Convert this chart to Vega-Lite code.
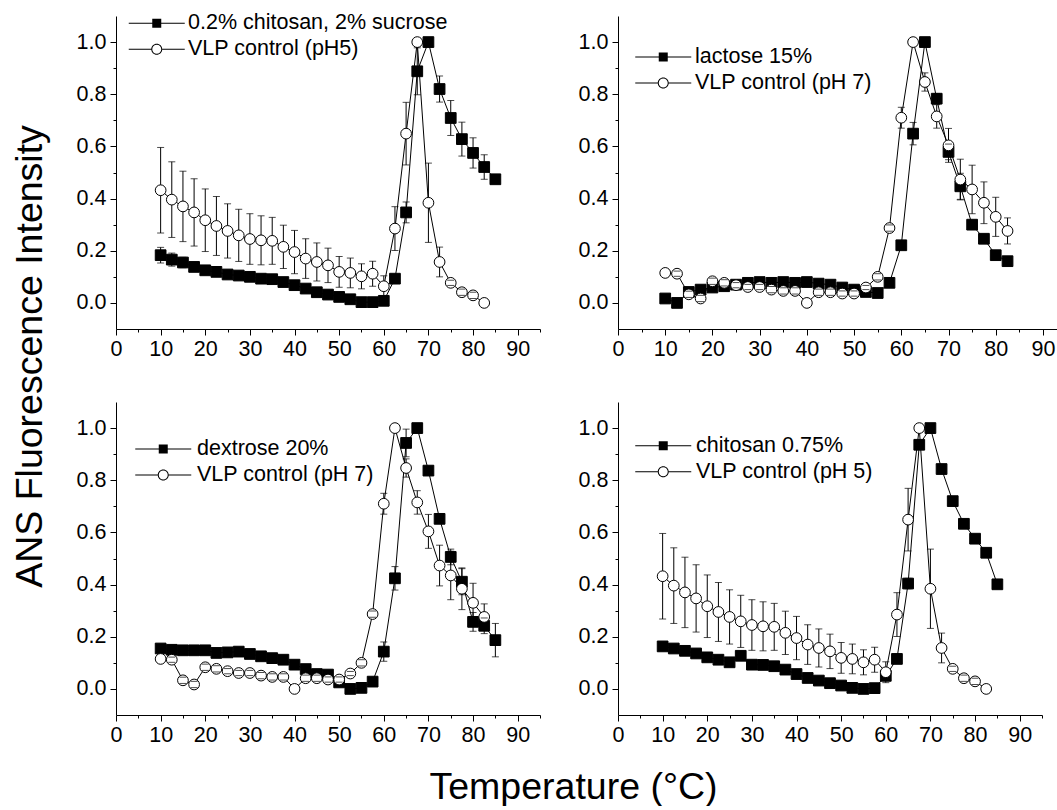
{
"$schema":"https://vega.github.io/schema/vega-lite/v6.json",
"background":"white",
"padding":{"left":11,"top":12,"right":0,"bottom":0},
"datasets":{"d":[
{"panel":1,"series":"0.2% chitosan, 2% sucrose","t":10,"y":0.183,"err":0.03},
{"panel":1,"series":"0.2% chitosan, 2% sucrose","t":12.5,"y":0.166,"err":0.025},
{"panel":1,"series":"0.2% chitosan, 2% sucrose","t":15,"y":0.155,"err":0.02},
{"panel":1,"series":"0.2% chitosan, 2% sucrose","t":17.5,"y":0.138,"err":0},
{"panel":1,"series":"0.2% chitosan, 2% sucrose","t":20,"y":0.125,"err":0},
{"panel":1,"series":"0.2% chitosan, 2% sucrose","t":22.5,"y":0.119,"err":0},
{"panel":1,"series":"0.2% chitosan, 2% sucrose","t":25,"y":0.109,"err":0},
{"panel":1,"series":"0.2% chitosan, 2% sucrose","t":27.5,"y":0.105,"err":0},
{"panel":1,"series":"0.2% chitosan, 2% sucrose","t":30,"y":0.1,"err":0},
{"panel":1,"series":"0.2% chitosan, 2% sucrose","t":32.5,"y":0.093,"err":0},
{"panel":1,"series":"0.2% chitosan, 2% sucrose","t":35,"y":0.091,"err":0},
{"panel":1,"series":"0.2% chitosan, 2% sucrose","t":37.5,"y":0.08,"err":0},
{"panel":1,"series":"0.2% chitosan, 2% sucrose","t":40,"y":0.068,"err":0},
{"panel":1,"series":"0.2% chitosan, 2% sucrose","t":42.5,"y":0.055,"err":0},
{"panel":1,"series":"0.2% chitosan, 2% sucrose","t":45,"y":0.041,"err":0},
{"panel":1,"series":"0.2% chitosan, 2% sucrose","t":47.5,"y":0.032,"err":0},
{"panel":1,"series":"0.2% chitosan, 2% sucrose","t":50,"y":0.023,"err":0},
{"panel":1,"series":"0.2% chitosan, 2% sucrose","t":52.5,"y":0.014,"err":0},
{"panel":1,"series":"0.2% chitosan, 2% sucrose","t":55,"y":0.003,"err":0},
{"panel":1,"series":"0.2% chitosan, 2% sucrose","t":57.5,"y":0.003,"err":0},
{"panel":1,"series":"0.2% chitosan, 2% sucrose","t":60,"y":0.008,"err":0},
{"panel":1,"series":"0.2% chitosan, 2% sucrose","t":62.5,"y":0.093,"err":0},
{"panel":1,"series":"0.2% chitosan, 2% sucrose","t":65,"y":0.347,"err":0.04},
{"panel":1,"series":"0.2% chitosan, 2% sucrose","t":67.5,"y":0.888,"err":0.09},
{"panel":1,"series":"0.2% chitosan, 2% sucrose","t":70,"y":1.0,"err":0},
{"panel":1,"series":"0.2% chitosan, 2% sucrose","t":72.5,"y":0.82,"err":0.05},
{"panel":1,"series":"0.2% chitosan, 2% sucrose","t":75,"y":0.709,"err":0.067},
{"panel":1,"series":"0.2% chitosan, 2% sucrose","t":77.5,"y":0.628,"err":0.065},
{"panel":1,"series":"0.2% chitosan, 2% sucrose","t":80,"y":0.575,"err":0.058},
{"panel":1,"series":"0.2% chitosan, 2% sucrose","t":82.5,"y":0.521,"err":0.047},
{"panel":1,"series":"0.2% chitosan, 2% sucrose","t":85,"y":0.474,"err":0},
{"panel":1,"series":"VLP control (pH5)","t":10,"y":0.432,"err":0.164},
{"panel":1,"series":"VLP control (pH5)","t":12.5,"y":0.396,"err":0.145},
{"panel":1,"series":"VLP control (pH5)","t":15,"y":0.37,"err":0.135},
{"panel":1,"series":"VLP control (pH5)","t":17.5,"y":0.347,"err":0.129},
{"panel":1,"series":"VLP control (pH5)","t":20,"y":0.317,"err":0.12},
{"panel":1,"series":"VLP control (pH5)","t":22.5,"y":0.295,"err":0.113},
{"panel":1,"series":"VLP control (pH5)","t":25,"y":0.276,"err":0.104},
{"panel":1,"series":"VLP control (pH5)","t":27.5,"y":0.259,"err":0.1},
{"panel":1,"series":"VLP control (pH5)","t":30,"y":0.245,"err":0.097},
{"panel":1,"series":"VLP control (pH5)","t":32.5,"y":0.24,"err":0.094},
{"panel":1,"series":"VLP control (pH5)","t":35,"y":0.238,"err":0.09},
{"panel":1,"series":"VLP control (pH5)","t":37.5,"y":0.215,"err":0.083},
{"panel":1,"series":"VLP control (pH5)","t":40,"y":0.195,"err":0.083},
{"panel":1,"series":"VLP control (pH5)","t":42.5,"y":0.17,"err":0.076},
{"panel":1,"series":"VLP control (pH5)","t":45,"y":0.157,"err":0.073},
{"panel":1,"series":"VLP control (pH5)","t":47.5,"y":0.144,"err":0.066},
{"panel":1,"series":"VLP control (pH5)","t":50,"y":0.119,"err":0.059},
{"panel":1,"series":"VLP control (pH5)","t":52.5,"y":0.115,"err":0.057},
{"panel":1,"series":"VLP control (pH5)","t":55,"y":0.102,"err":0.048},
{"panel":1,"series":"VLP control (pH5)","t":57.5,"y":0.112,"err":0.048},
{"panel":1,"series":"VLP control (pH5)","t":60,"y":0.064,"err":0.04},
{"panel":1,"series":"VLP control (pH5)","t":62.5,"y":0.285,"err":0.084},
{"panel":1,"series":"VLP control (pH5)","t":65,"y":0.649,"err":0.12},
{"panel":1,"series":"VLP control (pH5)","t":67.5,"y":1.0,"err":0},
{"panel":1,"series":"VLP control (pH5)","t":70,"y":0.384,"err":0.152},
{"panel":1,"series":"VLP control (pH5)","t":72.5,"y":0.157,"err":0.057},
{"panel":1,"series":"VLP control (pH5)","t":75,"y":0.077,"err":0.01},
{"panel":1,"series":"VLP control (pH5)","t":77.5,"y":0.041,"err":0.012},
{"panel":1,"series":"VLP control (pH5)","t":80,"y":0.029,"err":0.012},
{"panel":1,"series":"VLP control (pH5)","t":82.5,"y":0,"err":0},
{"panel":2,"series":"lactose 15%","t":10,"y":0.017,"err":0},
{"panel":2,"series":"lactose 15%","t":12.5,"y":0,"err":0},
{"panel":2,"series":"lactose 15%","t":15,"y":0.042,"err":0},
{"panel":2,"series":"lactose 15%","t":17.5,"y":0.051,"err":0},
{"panel":2,"series":"lactose 15%","t":20,"y":0.059,"err":0},
{"panel":2,"series":"lactose 15%","t":22.5,"y":0.064,"err":0},
{"panel":2,"series":"lactose 15%","t":25,"y":0.07,"err":0},
{"panel":2,"series":"lactose 15%","t":27.5,"y":0.077,"err":0},
{"panel":2,"series":"lactose 15%","t":30,"y":0.08,"err":0},
{"panel":2,"series":"lactose 15%","t":32.5,"y":0.077,"err":0},
{"panel":2,"series":"lactose 15%","t":35,"y":0.08,"err":0},
{"panel":2,"series":"lactose 15%","t":37.5,"y":0.077,"err":0},
{"panel":2,"series":"lactose 15%","t":40,"y":0.08,"err":0},
{"panel":2,"series":"lactose 15%","t":42.5,"y":0.074,"err":0},
{"panel":2,"series":"lactose 15%","t":45,"y":0.07,"err":0},
{"panel":2,"series":"lactose 15%","t":47.5,"y":0.059,"err":0},
{"panel":2,"series":"lactose 15%","t":50,"y":0.051,"err":0},
{"panel":2,"series":"lactose 15%","t":52.5,"y":0.042,"err":0},
{"panel":2,"series":"lactose 15%","t":55,"y":0.038,"err":0},
{"panel":2,"series":"lactose 15%","t":57.5,"y":0.077,"err":0},
{"panel":2,"series":"lactose 15%","t":60,"y":0.221,"err":0},
{"panel":2,"series":"lactose 15%","t":62.5,"y":0.649,"err":0.043},
{"panel":2,"series":"lactose 15%","t":65,"y":1.0,"err":0},
{"panel":2,"series":"lactose 15%","t":67.5,"y":0.783,"err":0.02},
{"panel":2,"series":"lactose 15%","t":70,"y":0.579,"err":0.03},
{"panel":2,"series":"lactose 15%","t":72.5,"y":0.447,"err":0.05},
{"panel":2,"series":"lactose 15%","t":75,"y":0.3,"err":0},
{"panel":2,"series":"lactose 15%","t":77.5,"y":0.246,"err":0},
{"panel":2,"series":"lactose 15%","t":80,"y":0.183,"err":0},
{"panel":2,"series":"lactose 15%","t":82.5,"y":0.16,"err":0},
{"panel":2,"series":"VLP control (pH 7)","t":10,"y":0.115,"err":0},
{"panel":2,"series":"VLP control (pH 7)","t":12.5,"y":0.112,"err":0.01},
{"panel":2,"series":"VLP control (pH 7)","t":15,"y":0.033,"err":0.012},
{"panel":2,"series":"VLP control (pH 7)","t":17.5,"y":0.017,"err":0.012},
{"panel":2,"series":"VLP control (pH 7)","t":20,"y":0.083,"err":0.012},
{"panel":2,"series":"VLP control (pH 7)","t":22.5,"y":0.077,"err":0.012},
{"panel":2,"series":"VLP control (pH 7)","t":25,"y":0.068,"err":0.01},
{"panel":2,"series":"VLP control (pH 7)","t":27.5,"y":0.061,"err":0.01},
{"panel":2,"series":"VLP control (pH 7)","t":30,"y":0.061,"err":0.01},
{"panel":2,"series":"VLP control (pH 7)","t":32.5,"y":0.051,"err":0.012},
{"panel":2,"series":"VLP control (pH 7)","t":35,"y":0.046,"err":0.012},
{"panel":2,"series":"VLP control (pH 7)","t":37.5,"y":0.046,"err":0.012},
{"panel":2,"series":"VLP control (pH 7)","t":40,"y":0,"err":0},
{"panel":2,"series":"VLP control (pH 7)","t":42.5,"y":0.041,"err":0.012},
{"panel":2,"series":"VLP control (pH 7)","t":45,"y":0.041,"err":0.012},
{"panel":2,"series":"VLP control (pH 7)","t":47.5,"y":0.036,"err":0.01},
{"panel":2,"series":"VLP control (pH 7)","t":50,"y":0.036,"err":0.01},
{"panel":2,"series":"VLP control (pH 7)","t":52.5,"y":0.059,"err":0.008},
{"panel":2,"series":"VLP control (pH 7)","t":55,"y":0.1,"err":0.012},
{"panel":2,"series":"VLP control (pH 7)","t":57.5,"y":0.287,"err":0.012},
{"panel":2,"series":"VLP control (pH 7)","t":60,"y":0.71,"err":0.04},
{"panel":2,"series":"VLP control (pH 7)","t":62.5,"y":1.0,"err":0},
{"panel":2,"series":"VLP control (pH 7)","t":65,"y":0.847,"err":0.035},
{"panel":2,"series":"VLP control (pH 7)","t":67.5,"y":0.715,"err":0.045},
{"panel":2,"series":"VLP control (pH 7)","t":70,"y":0.604,"err":0.065},
{"panel":2,"series":"VLP control (pH 7)","t":72.5,"y":0.473,"err":0.078},
{"panel":2,"series":"VLP control (pH 7)","t":75,"y":0.435,"err":0.093},
{"panel":2,"series":"VLP control (pH 7)","t":77.5,"y":0.384,"err":0.08},
{"panel":2,"series":"VLP control (pH 7)","t":80,"y":0.33,"err":0.075},
{"panel":2,"series":"VLP control (pH 7)","t":82.5,"y":0.276,"err":0.05},
{"panel":3,"series":"dextrose 20%","t":10,"y":0.155,"err":0},
{"panel":3,"series":"dextrose 20%","t":12.5,"y":0.15,"err":0},
{"panel":3,"series":"dextrose 20%","t":15,"y":0.148,"err":0},
{"panel":3,"series":"dextrose 20%","t":17.5,"y":0.148,"err":0},
{"panel":3,"series":"dextrose 20%","t":20,"y":0.148,"err":0},
{"panel":3,"series":"dextrose 20%","t":22.5,"y":0.138,"err":0},
{"panel":3,"series":"dextrose 20%","t":25,"y":0.14,"err":0},
{"panel":3,"series":"dextrose 20%","t":27.5,"y":0.143,"err":0},
{"panel":3,"series":"dextrose 20%","t":30,"y":0.134,"err":0},
{"panel":3,"series":"dextrose 20%","t":32.5,"y":0.125,"err":0},
{"panel":3,"series":"dextrose 20%","t":35,"y":0.118,"err":0},
{"panel":3,"series":"dextrose 20%","t":37.5,"y":0.112,"err":0},
{"panel":3,"series":"dextrose 20%","t":40,"y":0.093,"err":0},
{"panel":3,"series":"dextrose 20%","t":42.5,"y":0.076,"err":0},
{"panel":3,"series":"dextrose 20%","t":45,"y":0.057,"err":0},
{"panel":3,"series":"dextrose 20%","t":47.5,"y":0.055,"err":0},
{"panel":3,"series":"dextrose 20%","t":50,"y":0.025,"err":0},
{"panel":3,"series":"dextrose 20%","t":52.5,"y":0,"err":0},
{"panel":3,"series":"dextrose 20%","t":55,"y":0.004,"err":0},
{"panel":3,"series":"dextrose 20%","t":57.5,"y":0.028,"err":0},
{"panel":3,"series":"dextrose 20%","t":60,"y":0.143,"err":0.037},
{"panel":3,"series":"dextrose 20%","t":62.5,"y":0.424,"err":0.045},
{"panel":3,"series":"dextrose 20%","t":65,"y":0.943,"err":0.053},
{"panel":3,"series":"dextrose 20%","t":67.5,"y":1.0,"err":0},
{"panel":3,"series":"dextrose 20%","t":70,"y":0.837,"err":0},
{"panel":3,"series":"dextrose 20%","t":72.5,"y":0.652,"err":0},
{"panel":3,"series":"dextrose 20%","t":75,"y":0.506,"err":0.03},
{"panel":3,"series":"dextrose 20%","t":77.5,"y":0.411,"err":0.05},
{"panel":3,"series":"dextrose 20%","t":80,"y":0.257,"err":0.036},
{"panel":3,"series":"dextrose 20%","t":82.5,"y":0.242,"err":0.03},
{"panel":3,"series":"dextrose 20%","t":85,"y":0.187,"err":0.064},
{"panel":3,"series":"VLP control (pH 7)","t":10,"y":0.115,"err":0},
{"panel":3,"series":"VLP control (pH 7)","t":12.5,"y":0.112,"err":0.01},
{"panel":3,"series":"VLP control (pH 7)","t":15,"y":0.033,"err":0.012},
{"panel":3,"series":"VLP control (pH 7)","t":17.5,"y":0.017,"err":0.012},
{"panel":3,"series":"VLP control (pH 7)","t":20,"y":0.083,"err":0.012},
{"panel":3,"series":"VLP control (pH 7)","t":22.5,"y":0.077,"err":0.012},
{"panel":3,"series":"VLP control (pH 7)","t":25,"y":0.068,"err":0.01},
{"panel":3,"series":"VLP control (pH 7)","t":27.5,"y":0.061,"err":0.01},
{"panel":3,"series":"VLP control (pH 7)","t":30,"y":0.061,"err":0.01},
{"panel":3,"series":"VLP control (pH 7)","t":32.5,"y":0.051,"err":0.012},
{"panel":3,"series":"VLP control (pH 7)","t":35,"y":0.046,"err":0.012},
{"panel":3,"series":"VLP control (pH 7)","t":37.5,"y":0.046,"err":0.012},
{"panel":3,"series":"VLP control (pH 7)","t":40,"y":0,"err":0},
{"panel":3,"series":"VLP control (pH 7)","t":42.5,"y":0.041,"err":0.012},
{"panel":3,"series":"VLP control (pH 7)","t":45,"y":0.041,"err":0.012},
{"panel":3,"series":"VLP control (pH 7)","t":47.5,"y":0.036,"err":0.01},
{"panel":3,"series":"VLP control (pH 7)","t":50,"y":0.036,"err":0.01},
{"panel":3,"series":"VLP control (pH 7)","t":52.5,"y":0.059,"err":0.008},
{"panel":3,"series":"VLP control (pH 7)","t":55,"y":0.1,"err":0.012},
{"panel":3,"series":"VLP control (pH 7)","t":57.5,"y":0.287,"err":0.012},
{"panel":3,"series":"VLP control (pH 7)","t":60,"y":0.71,"err":0.04},
{"panel":3,"series":"VLP control (pH 7)","t":62.5,"y":1.0,"err":0},
{"panel":3,"series":"VLP control (pH 7)","t":65,"y":0.847,"err":0.035},
{"panel":3,"series":"VLP control (pH 7)","t":67.5,"y":0.715,"err":0.045},
{"panel":3,"series":"VLP control (pH 7)","t":70,"y":0.604,"err":0.065},
{"panel":3,"series":"VLP control (pH 7)","t":72.5,"y":0.473,"err":0.078},
{"panel":3,"series":"VLP control (pH 7)","t":75,"y":0.435,"err":0.093},
{"panel":3,"series":"VLP control (pH 7)","t":77.5,"y":0.384,"err":0.08},
{"panel":3,"series":"VLP control (pH 7)","t":80,"y":0.33,"err":0.075},
{"panel":3,"series":"VLP control (pH 7)","t":82.5,"y":0.276,"err":0.05},
{"panel":4,"series":"chitosan 0.75%","t":10,"y":0.163,"err":0},
{"panel":4,"series":"chitosan 0.75%","t":12.5,"y":0.155,"err":0},
{"panel":4,"series":"chitosan 0.75%","t":15,"y":0.146,"err":0},
{"panel":4,"series":"chitosan 0.75%","t":17.5,"y":0.136,"err":0},
{"panel":4,"series":"chitosan 0.75%","t":20,"y":0.121,"err":0},
{"panel":4,"series":"chitosan 0.75%","t":22.5,"y":0.112,"err":0},
{"panel":4,"series":"chitosan 0.75%","t":25,"y":0.102,"err":0},
{"panel":4,"series":"chitosan 0.75%","t":27.5,"y":0.127,"err":0},
{"panel":4,"series":"chitosan 0.75%","t":30,"y":0.093,"err":0},
{"panel":4,"series":"chitosan 0.75%","t":32.5,"y":0.092,"err":0},
{"panel":4,"series":"chitosan 0.75%","t":35,"y":0.087,"err":0},
{"panel":4,"series":"chitosan 0.75%","t":37.5,"y":0.074,"err":0},
{"panel":4,"series":"chitosan 0.75%","t":40,"y":0.057,"err":0},
{"panel":4,"series":"chitosan 0.75%","t":42.5,"y":0.042,"err":0},
{"panel":4,"series":"chitosan 0.75%","t":45,"y":0.032,"err":0},
{"panel":4,"series":"chitosan 0.75%","t":47.5,"y":0.022,"err":0},
{"panel":4,"series":"chitosan 0.75%","t":50,"y":0.013,"err":0},
{"panel":4,"series":"chitosan 0.75%","t":52.5,"y":0.004,"err":0},
{"panel":4,"series":"chitosan 0.75%","t":55,"y":0,"err":0},
{"panel":4,"series":"chitosan 0.75%","t":57.5,"y":0.003,"err":0},
{"panel":4,"series":"chitosan 0.75%","t":60,"y":0.05,"err":0},
{"panel":4,"series":"chitosan 0.75%","t":62.5,"y":0.115,"err":0},
{"panel":4,"series":"chitosan 0.75%","t":65,"y":0.404,"err":0.02},
{"panel":4,"series":"chitosan 0.75%","t":67.5,"y":0.936,"err":0},
{"panel":4,"series":"chitosan 0.75%","t":70,"y":1.0,"err":0},
{"panel":4,"series":"chitosan 0.75%","t":72.5,"y":0.843,"err":0},
{"panel":4,"series":"chitosan 0.75%","t":75,"y":0.72,"err":0},
{"panel":4,"series":"chitosan 0.75%","t":77.5,"y":0.633,"err":0},
{"panel":4,"series":"chitosan 0.75%","t":80,"y":0.576,"err":0},
{"panel":4,"series":"chitosan 0.75%","t":82.5,"y":0.522,"err":0},
{"panel":4,"series":"chitosan 0.75%","t":85,"y":0.401,"err":0.01},
{"panel":4,"series":"VLP control (pH 5)","t":10,"y":0.432,"err":0.164},
{"panel":4,"series":"VLP control (pH 5)","t":12.5,"y":0.396,"err":0.145},
{"panel":4,"series":"VLP control (pH 5)","t":15,"y":0.37,"err":0.135},
{"panel":4,"series":"VLP control (pH 5)","t":17.5,"y":0.347,"err":0.129},
{"panel":4,"series":"VLP control (pH 5)","t":20,"y":0.317,"err":0.12},
{"panel":4,"series":"VLP control (pH 5)","t":22.5,"y":0.295,"err":0.113},
{"panel":4,"series":"VLP control (pH 5)","t":25,"y":0.276,"err":0.104},
{"panel":4,"series":"VLP control (pH 5)","t":27.5,"y":0.259,"err":0.1},
{"panel":4,"series":"VLP control (pH 5)","t":30,"y":0.245,"err":0.097},
{"panel":4,"series":"VLP control (pH 5)","t":32.5,"y":0.24,"err":0.094},
{"panel":4,"series":"VLP control (pH 5)","t":35,"y":0.238,"err":0.09},
{"panel":4,"series":"VLP control (pH 5)","t":37.5,"y":0.215,"err":0.083},
{"panel":4,"series":"VLP control (pH 5)","t":40,"y":0.195,"err":0.083},
{"panel":4,"series":"VLP control (pH 5)","t":42.5,"y":0.17,"err":0.076},
{"panel":4,"series":"VLP control (pH 5)","t":45,"y":0.157,"err":0.073},
{"panel":4,"series":"VLP control (pH 5)","t":47.5,"y":0.144,"err":0.066},
{"panel":4,"series":"VLP control (pH 5)","t":50,"y":0.119,"err":0.059},
{"panel":4,"series":"VLP control (pH 5)","t":52.5,"y":0.115,"err":0.057},
{"panel":4,"series":"VLP control (pH 5)","t":55,"y":0.102,"err":0.048},
{"panel":4,"series":"VLP control (pH 5)","t":57.5,"y":0.112,"err":0.048},
{"panel":4,"series":"VLP control (pH 5)","t":60,"y":0.064,"err":0.04},
{"panel":4,"series":"VLP control (pH 5)","t":62.5,"y":0.285,"err":0.084},
{"panel":4,"series":"VLP control (pH 5)","t":65,"y":0.649,"err":0.12},
{"panel":4,"series":"VLP control (pH 5)","t":67.5,"y":1.0,"err":0},
{"panel":4,"series":"VLP control (pH 5)","t":70,"y":0.384,"err":0.152},
{"panel":4,"series":"VLP control (pH 5)","t":72.5,"y":0.157,"err":0.057},
{"panel":4,"series":"VLP control (pH 5)","t":75,"y":0.077,"err":0.01},
{"panel":4,"series":"VLP control (pH 5)","t":77.5,"y":0.041,"err":0.012},
{"panel":4,"series":"VLP control (pH 5)","t":80,"y":0.029,"err":0.012},
{"panel":4,"series":"VLP control (pH 5)","t":82.5,"y":0,"err":0}
]},
"data":{"name":"d"},
"columns":2,
"spacing":{"row":73,"column":78},
"bounds":"flush",
"resolve":{"scale":{"shape":"independent","fill":"independent","x":"independent","y":"independent"},"legend":{"shape":"independent","fill":"independent"}},
"concat":[
{"width":424,"height":313,
"transform":[{"filter":"datum.panel === 1"}],
"encoding":{
"x":{"field":"t","type":"quantitative","scale":{"domain":[0,95],"nice":false,"zero":false},
"axis":{"title":null,"values":[0,5,10,15,20,25,30,35,40,45,50,55,60,65,70,75,80,85,90,95],"format":"d","labelExpr":"datum.value % 10 === 0 ? datum.label : ''","tickSize":{"condition":{"test":"datum.value % 10 === 0","value":6},"value":3},"labelPadding":3}},
"y":{"field":"y","type":"quantitative","scale":{"domain":[-0.1,1.1],"nice":false,"zero":false},
"axis":{"title":"ANS Fluorescence Intensity","titleFontSize":37.5,"titleX":-75,"titleY":340,"titleAngle":-90,"titleAlign":"center","titleBaseline":"alphabetic","values":[0,0.1,0.2,0.3,0.4,0.5,0.6,0.7,0.8,0.9,1.0],"labelExpr":"round(datum.value*10) % 2 === 0 ? format(datum.value,'.1f') : ''","tickSize":{"condition":{"test":"round(datum.value*10) % 2 === 0","value":6},"value":3},"labelPadding":4}}
},
"layer":[
{"mark":{"type":"line","color":"black","strokeWidth":1},"encoding":{"detail":{"field":"series"}}},
{"transform":[{"filter":"datum.err > 0"}],"mark":{"type":"errorbar","ticks":false,"rule":{"color":"black","strokeWidth":1}},"encoding":{"yError":{"field":"err"}}},
{"mark":{"type":"point","filled":true,"stroke":"black","strokeWidth":1,"size":115,"opacity":1},
"encoding":{
"shape":{"field":"series","type":"nominal","scale":{"domain":["0.2% chitosan, 2% sucrose","VLP control (pH5)"],"range":["square","circle"]},"legend":null},
"fill":{"field":"series","type":"nominal","scale":{"domain":["0.2% chitosan, 2% sucrose","VLP control (pH5)"],"range":["black","white"]},"legend":null}
}},
{"transform":[{"filter":"datum.err > 0"}],"mark":{"type":"errorbar","rule":false,"ticks":{"size":7,"color":"black","strokeWidth":1}},"encoding":{"yError":{"field":"err"}}},
{"mark":{"type":"point","filled":true,"color":"black","size":100,"opacity":0},
"encoding":{
"shape":{"field":"series","type":"nominal","scale":{"domain":["0.2% chitosan, 2% sucrose","VLP control (pH5)"],"range":["M-2.8,-0.05L-0.45,-0.05L-0.45,0.05L-2.8,0.05ZM0.45,-0.05L2.8,-0.05L2.8,0.05L0.45,0.05ZM-0.45,-0.45L0.45,-0.45L0.45,0.45L-0.45,0.45Z","M-2.8,-0.05L-0.55,-0.05L-0.55,0.05L-2.8,0.05ZM0.55,-0.05L2.8,-0.05L2.8,0.05L0.55,0.05ZM0.55,0A0.55,0.55,0,1,1,-0.55,0A0.55,0.55,0,1,1,0.55,0ZM0.45,0A0.45,0.45,0,1,0,-0.45,0A0.45,0.45,0,1,0,0.45,0Z"]},
"legend":{"title":null,"orient":"none","legendX":30,"legendY":-3.6,"symbolSize":400,"symbolOpacity":1,"symbolFillColor":"black","symbolStrokeWidth":0,"labelOffset":20.5,"rowPadding":3,"padding":0,"labelLimit":600}}
}}
],
"resolve":{"scale":{"shape":"independent","fill":"independent"},"legend":{"shape":"independent","fill":"independent"}}
},
{"width":441,"height":313,
"transform":[{"filter":"datum.panel === 2"}],
"encoding":{
"x":{"field":"t","type":"quantitative","scale":{"domain":[0,93.4],"nice":false,"zero":false},
"axis":{"title":null,"values":[0,5,10,15,20,25,30,35,40,45,50,55,60,65,70,75,80,85,90],"format":"d","labelExpr":"datum.value % 10 === 0 ? datum.label : ''","tickSize":{"condition":{"test":"datum.value % 10 === 0","value":6},"value":3},"labelPadding":3}},
"y":{"field":"y","type":"quantitative","scale":{"domain":[-0.1,1.1],"nice":false,"zero":false},
"axis":{"title":null,"values":[0,0.1,0.2,0.3,0.4,0.5,0.6,0.7,0.8,0.9,1.0],"labelExpr":"round(datum.value*10) % 2 === 0 ? format(datum.value,'.1f') : ''","tickSize":{"condition":{"test":"round(datum.value*10) % 2 === 0","value":6},"value":3},"labelPadding":4}}
},
"layer":[
{"mark":{"type":"line","color":"black","strokeWidth":1},"encoding":{"detail":{"field":"series"}}},
{"transform":[{"filter":"datum.err > 0"}],"mark":{"type":"errorbar","ticks":false,"rule":{"color":"black","strokeWidth":1}},"encoding":{"yError":{"field":"err"}}},
{"mark":{"type":"point","filled":true,"stroke":"black","strokeWidth":1,"size":115,"opacity":1},
"encoding":{
"shape":{"field":"series","type":"nominal","scale":{"domain":["lactose 15%","VLP control (pH 7)"],"range":["square","circle"]},"legend":null},
"fill":{"field":"series","type":"nominal","scale":{"domain":["lactose 15%","VLP control (pH 7)"],"range":["black","white"]},"legend":null}
}},
{"transform":[{"filter":"datum.err > 0"}],"mark":{"type":"errorbar","rule":false,"ticks":{"size":7,"color":"black","strokeWidth":1}},"encoding":{"yError":{"field":"err"}}},
{"mark":{"type":"point","filled":true,"color":"black","size":100,"opacity":0},
"encoding":{
"shape":{"field":"series","type":"nominal","scale":{"domain":["lactose 15%","VLP control (pH 7)"],"range":["M-2.8,-0.05L-0.45,-0.05L-0.45,0.05L-2.8,0.05ZM0.45,-0.05L2.8,-0.05L2.8,0.05L0.45,0.05ZM-0.45,-0.45L0.45,-0.45L0.45,0.45L-0.45,0.45Z","M-2.8,-0.05L-0.55,-0.05L-0.55,0.05L-2.8,0.05ZM0.55,-0.05L2.8,-0.05L2.8,0.05L0.55,0.05ZM0.55,0A0.55,0.55,0,1,1,-0.55,0A0.55,0.55,0,1,1,0.55,0ZM0.45,0A0.45,0.45,0,1,0,-0.45,0A0.45,0.45,0,1,0,0.45,0Z"]},
"legend":{"title":null,"orient":"none","legendX":34.5,"legendY":30.3,"symbolSize":400,"symbolOpacity":1,"symbolFillColor":"black","symbolStrokeWidth":0,"labelOffset":21,"rowPadding":3,"padding":0,"labelLimit":600}}
}}
],
"resolve":{"scale":{"shape":"independent","fill":"independent"},"legend":{"shape":"independent","fill":"independent"}}
},
{"width":424,"height":313,
"transform":[{"filter":"datum.panel === 3"}],
"encoding":{
"x":{"field":"t","type":"quantitative","scale":{"domain":[0,95],"nice":false,"zero":false},
"axis":{"title":"Temperature (°C)","titleFontSize":37.5,"titleX":457,"titleY":83,"titleAlign":"center","titleBaseline":"alphabetic","values":[0,5,10,15,20,25,30,35,40,45,50,55,60,65,70,75,80,85,90,95],"format":"d","labelExpr":"datum.value % 10 === 0 ? datum.label : ''","tickSize":{"condition":{"test":"datum.value % 10 === 0","value":6},"value":3},"labelPadding":3}},
"y":{"field":"y","type":"quantitative","scale":{"domain":[-0.1,1.1],"nice":false,"zero":false},
"axis":{"title":null,"values":[0,0.1,0.2,0.3,0.4,0.5,0.6,0.7,0.8,0.9,1.0],"labelExpr":"round(datum.value*10) % 2 === 0 ? format(datum.value,'.1f') : ''","tickSize":{"condition":{"test":"round(datum.value*10) % 2 === 0","value":6},"value":3},"labelPadding":4}}
},
"layer":[
{"mark":{"type":"line","color":"black","strokeWidth":1},"encoding":{"detail":{"field":"series"}}},
{"transform":[{"filter":"datum.err > 0"}],"mark":{"type":"errorbar","ticks":false,"rule":{"color":"black","strokeWidth":1}},"encoding":{"yError":{"field":"err"}}},
{"mark":{"type":"point","filled":true,"stroke":"black","strokeWidth":1,"size":115,"opacity":1},
"encoding":{
"shape":{"field":"series","type":"nominal","scale":{"domain":["dextrose 20%","VLP control (pH 7)"],"range":["square","circle"]},"legend":null},
"fill":{"field":"series","type":"nominal","scale":{"domain":["dextrose 20%","VLP control (pH 7)"],"range":["black","white"]},"legend":null}
}},
{"transform":[{"filter":"datum.err > 0"}],"mark":{"type":"errorbar","rule":false,"ticks":{"size":7,"color":"black","strokeWidth":1}},"encoding":{"yError":{"field":"err"}}},
{"mark":{"type":"point","filled":true,"color":"black","size":100,"opacity":0},
"encoding":{
"shape":{"field":"series","type":"nominal","scale":{"domain":["dextrose 20%","VLP control (pH 7)"],"range":["M-2.8,-0.05L-0.45,-0.05L-0.45,0.05L-2.8,0.05ZM0.45,-0.05L2.8,-0.05L2.8,0.05L0.45,0.05ZM-0.45,-0.45L0.45,-0.45L0.45,0.45L-0.45,0.45Z","M-2.8,-0.05L-0.55,-0.05L-0.55,0.05L-2.8,0.05ZM0.55,-0.05L2.8,-0.05L2.8,0.05L0.55,0.05ZM0.55,0A0.55,0.55,0,1,1,-0.55,0A0.55,0.55,0,1,1,0.55,0ZM0.45,0A0.45,0.45,0,1,0,-0.45,0A0.45,0.45,0,1,0,0.45,0Z"]},
"legend":{"title":null,"orient":"none","legendX":36.5,"legendY":36.3,"symbolSize":400,"symbolOpacity":1,"symbolFillColor":"black","symbolStrokeWidth":0,"labelOffset":23,"rowPadding":3,"padding":0,"labelLimit":600}}
}}
],
"resolve":{"scale":{"shape":"independent","fill":"independent"},"legend":{"shape":"independent","fill":"independent"}}
},
{"width":424,"height":313,
"transform":[{"filter":"datum.panel === 4"}],
"encoding":{
"x":{"field":"t","type":"quantitative","scale":{"domain":[0,95],"nice":false,"zero":false},
"axis":{"title":null,"values":[0,5,10,15,20,25,30,35,40,45,50,55,60,65,70,75,80,85,90,95],"format":"d","labelExpr":"datum.value % 10 === 0 ? datum.label : ''","tickSize":{"condition":{"test":"datum.value % 10 === 0","value":6},"value":3},"labelPadding":3}},
"y":{"field":"y","type":"quantitative","scale":{"domain":[-0.1,1.1],"nice":false,"zero":false},
"axis":{"title":null,"values":[0,0.1,0.2,0.3,0.4,0.5,0.6,0.7,0.8,0.9,1.0],"labelExpr":"round(datum.value*10) % 2 === 0 ? format(datum.value,'.1f') : ''","tickSize":{"condition":{"test":"round(datum.value*10) % 2 === 0","value":6},"value":3},"labelPadding":4}}
},
"layer":[
{"mark":{"type":"line","color":"black","strokeWidth":1},"encoding":{"detail":{"field":"series"}}},
{"transform":[{"filter":"datum.err > 0"}],"mark":{"type":"errorbar","ticks":false,"rule":{"color":"black","strokeWidth":1}},"encoding":{"yError":{"field":"err"}}},
{"mark":{"type":"point","filled":true,"stroke":"black","strokeWidth":1,"size":115,"opacity":1},
"encoding":{
"shape":{"field":"series","type":"nominal","scale":{"domain":["chitosan 0.75%","VLP control (pH 5)"],"range":["square","circle"]},"legend":null},
"fill":{"field":"series","type":"nominal","scale":{"domain":["chitosan 0.75%","VLP control (pH 5)"],"range":["black","white"]},"legend":null}
}},
{"transform":[{"filter":"datum.err > 0"}],"mark":{"type":"errorbar","rule":false,"ticks":{"size":7,"color":"black","strokeWidth":1}},"encoding":{"yError":{"field":"err"}}},
{"mark":{"type":"point","filled":true,"color":"black","size":100,"opacity":0},
"encoding":{
"shape":{"field":"series","type":"nominal","scale":{"domain":["chitosan 0.75%","VLP control (pH 5)"],"range":["M-2.8,-0.05L-0.45,-0.05L-0.45,0.05L-2.8,0.05ZM0.45,-0.05L2.8,-0.05L2.8,0.05L0.45,0.05ZM-0.45,-0.45L0.45,-0.45L0.45,0.45L-0.45,0.45Z","M-2.8,-0.05L-0.55,-0.05L-0.55,0.05L-2.8,0.05ZM0.55,-0.05L2.8,-0.05L2.8,0.05L0.55,0.05ZM0.55,0A0.55,0.55,0,1,1,-0.55,0A0.55,0.55,0,1,1,0.55,0ZM0.45,0A0.45,0.45,0,1,0,-0.45,0A0.45,0.45,0,1,0,0.45,0Z"]},
"legend":{"title":null,"orient":"none","legendX":34.5,"legendY":33,"symbolSize":400,"symbolOpacity":1,"symbolFillColor":"black","symbolStrokeWidth":0,"labelOffset":22,"rowPadding":3,"padding":0,"labelLimit":600}}
}}
],
"resolve":{"scale":{"shape":"independent","fill":"independent"},"legend":{"shape":"independent","fill":"independent"}}
}
],
"config":{
"view":{"stroke":null},
"axis":{"domainColor":"black","tickColor":"black","labelColor":"black","labelFont":"Liberation Sans","labelFontSize":21.5,"titleFont":"Liberation Sans","titleFontSize":36,"titleFontWeight":"normal","titleColor":"black","grid":false,"labelOverlap":false,"labelBound":false,"labelFlush":false,"domainWidth":1,"tickWidth":1},
"legend":{"labelFont":"Liberation Sans","labelFontSize":21.5,"labelColor":"black"}
}
}
